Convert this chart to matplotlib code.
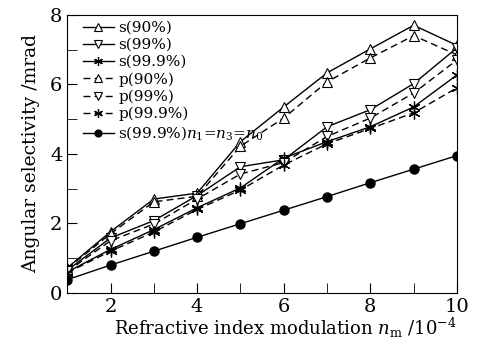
import numpy as np
import matplotlib.pyplot as plt
from matplotlib.ticker import MultipleLocator

plt.rcParams['font.family'] = ['DejaVu Serif']
plt.rcParams['mathtext.fontset'] = 'dejavuserif'

nm = [1, 2, 3, 4, 5, 6, 7, 8, 9, 10]
s90 = [0.72, 1.76, 2.70, 2.87, 4.35, 5.35, 6.33, 7.02, 7.70, 7.12]
s99 = [0.65, 1.58, 2.08, 2.80, 3.63, 3.83, 4.78, 5.27, 6.02, 7.05]
s999 = [0.60, 1.25, 1.82, 2.45, 3.02, 3.88, 4.35, 4.78, 5.35, 6.27]
p90 = [0.70, 1.70, 2.62, 2.78, 4.22, 5.03, 6.07, 6.76, 7.40, 6.85]
p99 = [0.62, 1.50, 1.98, 2.70, 3.42, 3.75, 4.50, 5.03, 5.75, 6.70]
p999 = [0.58, 1.20, 1.75, 2.40, 2.96, 3.68, 4.29, 4.73, 5.18, 5.90]
s999_n0 = [0.38, 0.80, 1.20, 1.60, 1.99, 2.38, 2.77, 3.17, 3.56, 3.95]

fig = plt.figure(figsize=(4.8, 3.45), dpi=100)
ax = fig.add_axes([0.14, 0.151, 0.812, 0.806])

star = (6, 2, 0)
ms = 7
ax.plot(nm, s90, '-', color='k', lw=1, marker='^', ms=ms, mfc='white', mec='k', mew=0.8, label='s(90%)')
ax.plot(nm, s99, '-', color='k', lw=1, marker='v', ms=ms, mfc='white', mec='k', mew=0.8, label='s(99%)')
ax.plot(nm, s999, '-', color='k', lw=1, marker=star, ms=8.5, mec='k', mew=0.9, label='s(99.9%)')
ax.plot(nm, p90, '--', color='k', lw=1, marker='^', ms=ms, mfc='white', mec='k', mew=0.8, dashes=(5, 3), label='p(90%)')
ax.plot(nm, p99, '--', color='k', lw=1, marker='v', ms=ms, mfc='white', mec='k', mew=0.8, dashes=(5, 3), label='p(99%)')
ax.plot(nm, p999, '--', color='k', lw=1, marker=star, ms=8.5, mec='k', mew=0.9, dashes=(5, 3), label='p(99.9%)')
ax.plot(nm, s999_n0, '-', color='k', lw=1, marker='o', ms=6.5, mfc='k', mec='k', label='s(99.9%)$n_1$=$n_3$=$n_0$')

ax.set_xlim(1, 10)
ax.set_ylim(0, 8)
ax.set_xticks([2, 4, 6, 8, 10])
ax.set_xticks([1, 3, 5, 7, 9], minor=True)
ax.yaxis.set_major_locator(MultipleLocator(2))
ax.yaxis.set_minor_locator(MultipleLocator(1))
ax.tick_params(which='both', direction='in', top=False, right=False, labelsize=14, length=7)

ax.set_xlabel('Refractive index modulation $n_\\mathrm{m}$ /10$^{-4}$', fontsize=13, labelpad=0)
ax.xaxis.label.set_x(0.56)
ax.set_ylabel('Angular selectivity /mrad', fontsize=13.5, labelpad=7)

ax.legend(loc='upper left', bbox_to_anchor=(0.025, 1.0), frameon=False, fontsize=11,
          handlelength=2.0, handletextpad=0.3, labelspacing=0.2, borderaxespad=0.2,
          borderpad=0.2, markerscale=0.75)

fig.savefig('out.png')
